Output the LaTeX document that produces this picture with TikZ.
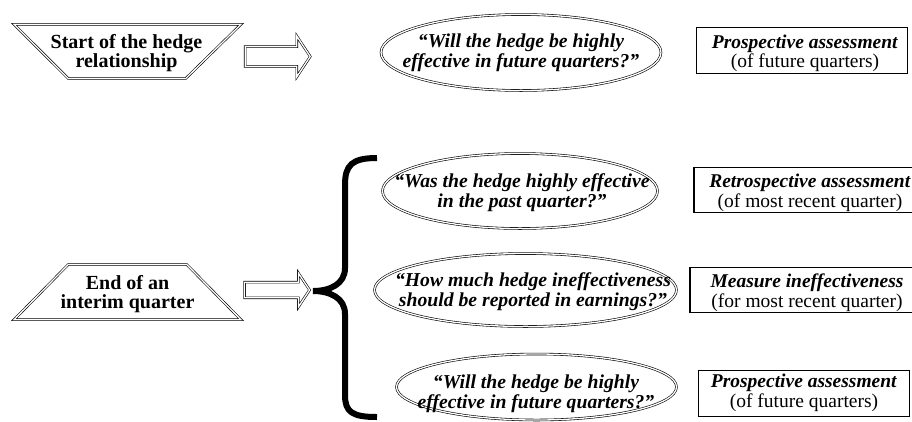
\documentclass[tikz,border=0pt]{standalone}
\usepackage{fontspec}
\setmainfont{Liberation Serif}
\usetikzlibrary{shapes.geometric,shapes.arrows}
\begin{document}
\begin{tikzpicture}[x=1pt,y=-1pt,
  dbl/.style={draw, double, double distance=1.3pt, line width=0.6pt},
  traptext/.style={font=\fontsize{20}{19.5}\selectfont\bfseries, align=center, inner sep=0pt},
  blk/.style={dbl, single arrow, minimum height=65pt, inner xsep=0pt, text height=0pt, text depth=0pt},
  oval/.style={dbl, ellipse, inner sep=0pt},
  qtext/.style={font=\fontsize{19.7}{19.5}\selectfont\bfseries\itshape, align=center, inner sep=0pt},
  box/.style={draw, line width=1.1pt, inner sep=0pt},
  btext/.style={align=center, inner sep=0pt, font=\fontsize{19.5}{19.5}\selectfont}
]
\useasboundingbox (0,0) rectangle (912,421);
\clip (0,0) rectangle (912,421);

% left shapes
\coordinate (s1) at (14,24.3);
\coordinate (s2) at (241,24.3);
\coordinate (s3) at (185.5,78.7);
\coordinate (s4) at (68.5,78.7);
\draw[dbl, line join=miter] (s1) -- (s2) -- (s3) -- (s4) -- cycle;
\node[traptext] (starttxt) at (126.5,53) {Start of the hedge\\relationship};
\coordinate (n1) at (68.5,264.3);
\coordinate (n2) at (186.5,264.3);
\coordinate (n3) at (241,319.7);
\coordinate (n4) at (14,319.7);
\draw[dbl, line join=miter] (n1) -- (n2) -- (n3) -- (n4) -- cycle;
\node[traptext] (endtxt) at (127.5,294) {End of an\\interim quarter};

% block arrows
\node[blk, single arrow tip angle=113, single arrow head extend=10.5pt, inner ysep=9.5pt] (arr1) at (274.5,56.5) {};
\node[blk, single arrow tip angle=113, single arrow head extend=9pt, inner ysep=7.5pt] (arr2) at (274.5,290) {};

% brace
\draw[line width=6pt] (377,158) .. controls (352,158) and (345,165) .. (345,185) -- (345,268)
  .. controls (345,284) and (330,291) .. (313,291)
  .. controls (330,291) and (345,298) .. (345,314) -- (345,395)
  .. controls (345,412) and (352,417) .. (377,417);

% ellipses
\node[oval, minimum width=280pt, minimum height=76pt] (e1) at (521,52.5) {};
\node[qtext] (q1) at (521,53) {“Will the hedge be highly\\effective in future quarters?”};
\node[oval, minimum width=275pt, minimum height=75pt] (e2) at (520,191) {};
\node[qtext] (q2) at (522,192.5) {“Was the hedge highly effective\\in the past quarter?”};
\node[oval, minimum width=302pt, minimum height=73pt] (e3) at (525.5,290) {};
\node[qtext] (q3) at (533,291.5) {“How much hedge ineffectiveness\\should be reported in earnings?”};
\node[oval, minimum width=280pt, minimum height=66pt] (e4) at (536.5,387) {};
\node[qtext] (q4) at (536,394) {“Will the hedge be highly\\effective in future quarters?”};

% boxes
\node[box, minimum width=211pt, minimum height=46pt] (b1) at (802,50.5) {};
\node[btext] (bt1) at (805,53.5) {\textbf{\textit{Prospective assessment}}\\(of future quarters)};
\node[box, minimum width=236pt, minimum height=45pt] (b2) at (812,190) {};
\node[btext] (bt2) at (810,193) {\textbf{\textit{Retrospective assessment}}\\(of most recent quarter)};
\node[box, minimum width=240pt, minimum height=45pt] (b3) at (810,290) {};
\node[btext] (bt3) at (807,292.5) {\textbf{\textit{Measure ineffectiveness}}\\(for most recent quarter)};
\node[box, minimum width=211pt, minimum height=46pt] (b4) at (804,393.5) {};
\node[btext] (bt4) at (804,393) {\textbf{\textit{Prospective assessment}}\\(of future quarters)};
\end{tikzpicture}
\end{document}
